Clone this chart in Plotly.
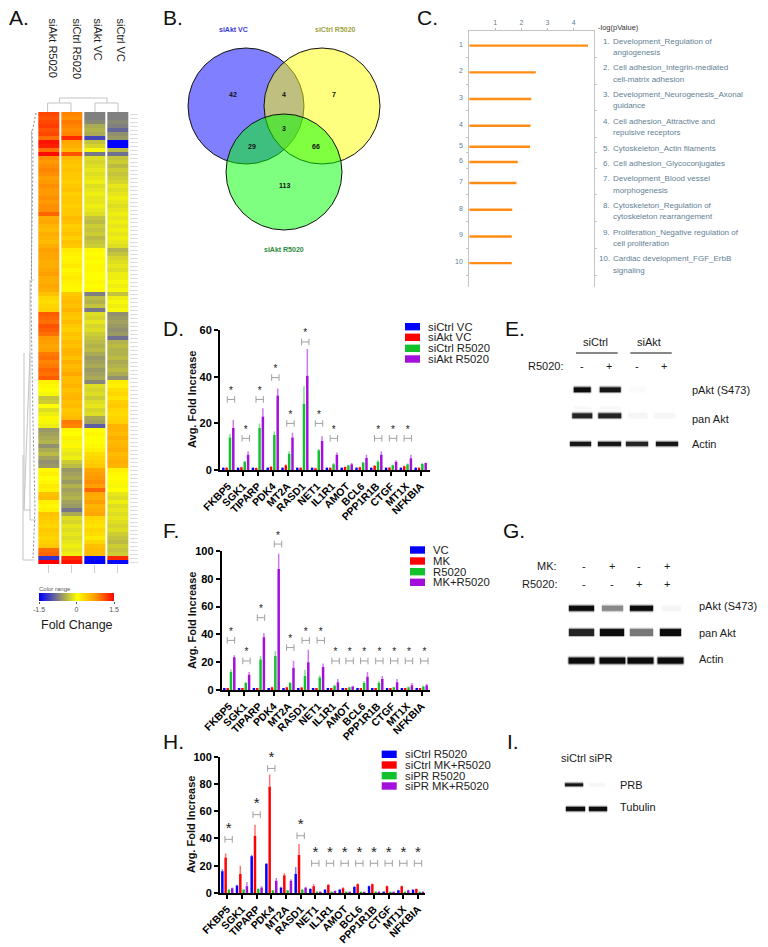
import numpy as np
import plotly.graph_objects as go

W, H = 768, 947
FONT = "Liberation Sans"

# ---------- Panel A ----------
heat_samples = ["siAkt R5020", "siCtrl R5020", "siAkt VC", "siCtrl VC"]
heat_akt_r = [1.15,1.1,1.15,1.2,1.1,1.15, .95, 1.4,1.35, .95, 1.45,
  .8,.75,.8,.85,.8,.7,.75,.8,.75,.75,.8,.75,.8,.8, 1.0,
  .6,.65,.55,.5,.6,.55,.5,.6, .7,.65,.65,.6,.6,.65,.7,.6,.6,.65,.6, .45,
  .3,.25,.3,.35, 1.05,1.0,.95,1.1,1.05,.95, .75,.7,.65,.7, .9,.95,.85,.9,1.0,.95,1.05,
  .1,.05,.0,-.05,-.35,-.3,.0,-.2,-.1,.05, -.05,-.1,
  -.6,-.55,-.5,-.45,-.65,-.5,-.4,-.55,-.65,-.6, .05,.1,.0,.05,.15,.1,
  .45,.5,.1, .05,.1,.45, .4,.35,.3,.4,.35,.3,.35,.4, .95,1.0, -1.2, 1.5]
heat_ctrl_r = [.85,.8,.9,.85,.8,.85, 1.3, .65,.6, .5, 1.1,
  .5,.45,.4,.45,.4,.4,.35,.4,.45,.35,.4,.4,.35,.4, .4,
  .5,.45,.35,.4,.45,.35,.45,.4, .15,.1,.05,.1,.15,.05,.1,.15,.1,.05,.05, .4,
  .45,.5,.45,.55, .45,.4,.5,.4,.35,.45, .4,.5,.45,.55, .55,.45,.6,.5,.55,.65,.5,
  .5,.55,.45,.5,.55,.45,.5,.4,.45,.5, .9,.85,
  .05,.0,.1,-.05,.05,-.1,-.15,-.1,-.3,-.4, -.6,-.55,-.5,-.6,-.45,-.55,
  -.5,-.45,-.55, -.6,-.8,-.5, -.2,-.25,-.15,-.2,-.15,-.2,-.15,-.1, -.15,-.1, 1.3, 1.4]
heat_akt_v = [-.75,-.75,-.7,-.5,-.45,-.5, -1.1, -.35,-.25, -.05, -.8,
  -.2,-.25,-.2,-.15,-.2,-.15,-.1,-.2,-.15,-.1,-.15,-.15,-.1,-.15, -.2,
  -.35,-.4,-.3,-.35,-.3,-.4,-.35,-.3, .05,.0,.05,.0,.05,.05,.0,.0,.05,.0,.05, -.75,
  -.4,-.45,-.35,-.8, -.2,-.25,-.15,-.25,-.2,-.3, -.35,-.4,-.45,-.4, -.5,-.6,-.55,-.5,-.6,-.55,-.5,
  -.7,-.2,-.25,-.2,-.3,-.2,-.15,-.25,-.2,-.5, -.55,-.95,
  .0,.05,.0,.0,.05,.1,.25,.3,.35,.4, .65,.7,.75,.8,.7,1.0,
  .65,.6,.7, .55,.6,.65, .3,.25,.2,.3,.25,.15,.3,.45, .5,.5, -1.45, -1.5]
heat_ctrl_v = [-.75,-.75,-.7,-.75,-.9,-.65, -.6, -1.5,-1.5, -.4, -.85,
  -.35,-.3,-.4,-.3,-.35,-.3,-.25,-.15,-.2,-.15,-.1,-.15,-.2,-.15, -.1,
  -.15,-.1,-.15,-.1,-.15,-.1,-.15,-.2, -.45,-.35,-.25,-.2,-.15,-.2,-.1,-.1,-.05,-.1,-.05, -.35,
  -.1,-.05,-.1,-.05, -.65,-.6,-.55,-.6,-.65,-.6, -.85,-.45,-.4,-.45, -.45,-.4,-.5,-.45,-.4,-.5,-.65,
  .15,.1,.25,.3,.2,.35,.4,.3,.25,.3, .35,.55,
  .55,.5,.6,.5,.55,.6,.5,.55,.6,.55, .1,.05,.0,.05,-.05,.0,
  -.15,-.2,-.1, -.2,-.15,-.2, -.15,-.2,-.25,-.2,-.3,-.35,-.4,-.3, -.35,-.3, 1.3, -1.45]
color_range = [-1.5, -0.75, 0, 0.75, 1.5]

# ---------- Panel B ----------
venn_names = ["siAkt VC", "siCtrl R5020", "siAkt R5020"]
venn_counts = ["42", "4", "7", "3", "29", "66", "113"]

# ---------- Panel C ----------
pathways = ["Development_Regulation of\nangiogenesis",
            "Cell adhesion_Integrin-mediated\ncell-matrix adhesion",
            "Development_Neurogenesis_Axonal\nguidance",
            "Cell adhesion_Attractive and\nrepulsive receptors",
            "Cytoskeleton_Actin filaments",
            "Cell adhesion_Glycoconjugates",
            "Development_Blood vessel\nmorphogenesis",
            "Cytoskeleton_Regulation of\ncytoskeleton rearrangement",
            "Proliferation_Negative regulation of\ncell proliferation",
            "Cardiac development_FGF_ErbB\nsignaling"]
logp = [4.55, 2.55, 2.38, 2.35, 2.33, 1.86, 1.81, 1.65, 1.63, 1.63]

# ---------- Bar panels ----------
genes_d = ["FKBP5","SGK1","TIPARP","PDK4","MT2A","RASD1","NET1","IL1R1","AMOT","BCL6","PPP1R1B","CTGF","MT1X","NFKBIA"]
genes_h = ["FKBP5","SGK1","TIPARP","PDK4","MT2A","RASD1","NET1","IL1R1","AMOT","BCL6","PPP1R1B","CTGF","MT1X","NFKBIA"]

d_names = ["siCtrl VC", "siAkt VC", "siCtrl R5020", "siAkt R5020"]
d_blue = [1,1,1,1,1,1,1,1,1,1,1,1,1,1]
d_red = [1.0,1.2,.9,1.4,2.0,1.0,.8,1.0,1.3,1.2,1.8,1.1,1.6,1.0]
d_green = [14,3.5,18,15,7,28.5,8.5,2.5,2,3.2,3.5,2,2.5,2.6]
d_purple = [18,6.5,23,32,14,40.5,12.5,6.5,2.5,5.2,6.5,3.5,5,3]
d_blue_top = [1.2,1.2,1.2,1.2,1.2,1.2,1.2,1.2,1.2,1.2,1.2,1.2,1.2,1.2]
d_red_top = [1.2,1.4,1.1,1.7,2.5,1.2,1.0,1.2,1.5,1.4,2.1,1.3,1.9,1.2]
d_green_top = [15.5,4,20,16.5,8,36,9,3,2.3,3.5,4.2,2.4,2.8,3]
d_purple_top = [21.5,8,26.5,35,16,52,14.5,7.5,3,6.5,8,4.2,6.5,3.2]
d_sig_pos = [0.18,0.18,0.12,0.18,0.2,0.2,0.13,0.13,0.13,0.13,0.13]
d_sig_idx = [0,1,2,3,4,5,6,7,10,11,12]
d_sig_lvl = [30.3,13.6,30.3,39.7,20,55,20,13.6,13.6,13.6,13.6]

f_names = ["VC", "MK", "R5020", "MK+R5020"]
f_blue = [1,1,1,1,1,1,1,1,1,1,1,1,1,1]
f_red = [1,1.2,1,2,2,1.8,1.1,1,1,1.1,1,1,1.1,1]
f_green = [13,5,22,24.5,5,10,9,3,2,5,5,2,2,2.6]
f_purple = [23.5,11,38,87,16,20,16.5,5.5,2.5,9.5,8,5.5,3.5,3.5]
f_blue_top = [1.2]*14
f_red_top = [1.2,1.5,1.2,2.4,2.4,2.1,1.3,1.2,1.2,1.3,1.2,1.2,1.3,1.2]
f_green_top = [15,6,24.5,28,6,14.5,10.5,4,2.3,6.5,6.5,2.3,2.6,3]
f_purple_top = [25,13,41,98,21,29,19,8,3,13,10,8,5,4.5]
f_sig_idx = [0,1,2,3,4,5,6,7,8,9,10,11,12,13]
f_sig_pos = [0.11,0.16,0.14,0.29,0.12,0.16,0.18,0.18,0.13,0.12,0.14,0.14,0.14,0.18]
f_sig_lvl = [35.7,20.9,52,105,30.5,35.7,35.7,20.9,20.9,20.9,20.9,20.9,20.9,20.9]

h_names = ["siCtrl R5020", "siCtrl MK+R5020", "siPR R5020", "siPR MK+R5020"]
h_blue = [16,5.5,27,21.5,4,14,3,2.5,2.5,4.5,5,1,2,2.5]
h_red = [26,14,42,78,13,28,5,6,3.5,6.5,6.5,5,5,3]
h_green = [2.5,2.5,3,2,2,2.5,1,1,1,.5,1,.5,1,.8]
h_purple = [3.5,5,4,9,9,4,1,1.5,1,.5,1,1,2,1]
h_blue_top = [17.5,6,28,22,4.5,19,3.5,3,3,5,5.5,1.2,2.3,2.7]
h_red_top = [29,20,50,87,14.5,36,6.5,6.5,4.2,7,7,5.5,5.5,3.3]
h_green_top = [3,3,3.5,2.3,2.2,3,1.2,1.2,1.2,.6,1.2,.6,1.1,.9]
h_purple_top = [4,8,5,11,10,4.5,1.2,1.8,1.1,.6,1.2,1.1,2.5,1.1]
h_sig_idx = [0,2,3,5,6,7,8,9,10,11,12,13]
h_sig_pos = [0.09,0.0,0.0,0.0,0.0,0.0,0.0,0.0,0.0,0.0,0.0,0.0]
h_sig_lvl = [39.4,57.5,91.4,42,21.8,21.8,21.8,21.8,21.8,21.8,21.8,21.8]

# ---------- Blots: band darkness per lane ----------
e_pakt = [1.0, .98, .15, 0]
e_pan_upper = [.18, .18, 0, 0]
e_pan = [.95, .95, .2, .2]
e_actin = [.98, .98, .95, .98]
g_pakt = [1.0, .7, 1.0, .2]
g_pan = [.95, 1.0, .75, 1.0]
g_actin = [1.0, 1.0, 1.0, 1.0]
i_prb = [.98, .2]
i_tubulin = [1.0, 1.0]

COLORS = ["#0000ff", "#ff0000", "#12c22c", "#a40fdc"]
ERR = ["rgba(0,0,255,.5)", "rgba(255,0,0,.55)", "rgba(18,194,44,.55)", "rgba(164,15,220,.55)"]
TXT = "#1a1a1a"
GREY = "#5f7f95"

def fx(p): return p / W
def fy(p): return 1 - p / H

annotations, shapes = [], []

def txt(x, y, s, size=11, color=TXT, anchor="left", angle=0, bold=False, vanchor="middle"):
    annotations.append(dict(x=fx(x), y=fy(y), xref="paper", yref="paper", text=s, showarrow=False,
                            xanchor=anchor, yanchor=vanchor, textangle=angle,
                            font=dict(family=FONT, size=size, color=color, weight=700 if bold else 400),
                            borderpad=0, borderwidth=0))

fig = go.Figure()
layout = dict(width=W, height=H, margin=dict(l=0, r=0, t=0, b=0, autoexpand=False), paper_bgcolor="white",
              plot_bgcolor="rgba(0,0,0,0)", showlegend=False, bargap=0.1, bargroupgap=0.25,
              font=dict(family=FONT), hovermode=False)

# overlay in page pixels
layout["xaxis"] = dict(domain=[0, 1], range=[0, W], visible=False, fixedrange=True, automargin=False)
layout["yaxis"] = dict(domain=[0, 1], range=[H, 0], visible=False, fixedrange=True, automargin=False)

def add_axes(i, x0, x1, y0, y1, xa, ya):
    layout[f"xaxis{i}"] = dict(domain=[fx(x0), fx(x1)], anchor=f"y{i}", fixedrange=True, automargin=False, **xa)
    layout[f"yaxis{i}"] = dict(domain=[fy(y1), fy(y0)], anchor=f"x{i}", fixedrange=True, automargin=False, **ya)

# Panel letters
for s, x, y in [("A.", 9, 18), ("B.", 163, 18), ("C.", 417, 18), ("D.", 163, 328), ("E.", 505, 329),
                ("F.", 163, 530), ("G.", 503, 530), ("H.", 163, 741), ("I.", 507, 741)]:
    txt(x, y, s, size=21, color="#111")

# ---------- A ----------
rows = list(range(len(heat_akt_r)))
heat_z = [list(r) for r in zip(heat_akt_r, heat_ctrl_r, heat_akt_v, heat_ctrl_v)]
SCALE = [[0, "#0000ff"], [.25, "#808080"], [.5, "#ffff00"], [.75, "#ff9900"], [1, "#ff0000"]]
add_axes(2, 37.3, 129, 112, 564,
         dict(range=[-.5, 3.5], tickmode="array", tickvals=[0, 1, 2, 3], ticks="outside", ticklen=8,
              tickcolor="#d0d0d0", tickwidth=1, showticklabels=False, showline=False, showgrid=False, zeroline=False),
         dict(range=[len(rows) - .5, -.5], side="right", tickmode="array", tickvals=rows, ticks="outside", ticklen=8,
              tickcolor="#dcdcdc", tickwidth=1, showticklabels=False, showline=False, showgrid=False, zeroline=False))
fig.add_trace(go.Heatmap(z=heat_z, x=[0, 1, 2, 3], y=rows, colorscale=SCALE, zmin=-1.5, zmax=1.5,
                         showscale=False, xgap=2, xaxis="x2", yaxis="y2", hoverinfo="skip"))
for x, s in zip([52, 76, 97.5, 120], heat_samples):
    txt(x, 18, s, size=11, anchor="center", angle=90, vanchor="top")

# dendrograms (page pixels)
dx = [47.6, 47.6, 71, 71, None, 95, 95, 118, 118, None, 59.5, 59.5, 107, 107, None,
      30, 30, 36, None, 24, 24, 30, None, 24, 31, None, 23, 23, 34, None, 31.5, 31.5, 34]
dy = [112, 103, 103, 112, None, 112, 103, 103, 112, None, 103, 98, 98, 103, None,
      280, 520, 520, None, 353, 510, 353, None, 510, 510, None, 455, 560, 560, None, 130, 280, 280]
fig.add_trace(go.Scatter(x=dx, y=dy, mode="lines", line=dict(color="#c4c4c4", width=1), hoverinfo="skip"))
fig.add_trace(go.Scatter(x=[36, 32, 33, 31, 31, 33, 35, 33], y=[113, 133, 153, 300, 300, 420, 510, 558], mode="lines",
                         line=dict(color="#8a8a8a", width=1, dash="2px,2px"), hoverinfo="skip"))

# colour range
add_axes(3, 39, 114, 593, 601,
         dict(range=[-1.5, 1.5], tickmode="array", tickvals=[-1.5, 0, 1.5], ticktext=["-1.5", "0", "1.5"],
              ticks="outside", ticklen=2, tickcolor="#555", tickfont=dict(size=7, color="#555", family=FONT),
              showgrid=False, zeroline=False, showline=False),
         dict(range=[0, 1], visible=False))
fig.add_trace(go.Heatmap(z=[color_range, color_range], x=color_range, y=[0, 1], zsmooth="best", colorscale=SCALE,
                         zmin=-1.5, zmax=1.5, showscale=False, xaxis="x3", yaxis="y3", hoverinfo="skip"))
txt(39, 589, "Color range", size=6, color="#555")
txt(77, 625, "Fold Change", size=12.5, anchor="center")

# ---------- B ----------
fig.add_trace(go.Scatter(x=[246, 322, 284], y=[106, 106, 172], mode="markers",
                         marker=dict(size=116, color=["rgba(0,0,255,.5)", "rgba(255,255,0,.5)", "rgba(0,255,0,.5)"],
                                     line=dict(color="#111", width=1)), hoverinfo="skip"))
for (x, y), s in zip([(233, 94), (284, 94), (334, 94), (284, 128), (252, 146), (315.5, 146), (284, 185)], venn_counts):
    txt(x, y, s, size=7, anchor="center", bold=True, color="#111")
for (x, y), s, c in zip([(233, 30), (335, 30), (284, 249)], venn_names, ["#3a3ad0", "#a3a040", "#2a8a3a"]):
    txt(x, y, s, size=7, anchor="center", bold=True, color=c)

# ---------- C ----------
line_counts = [p.count("\n") + 1 for p in pathways]
edges = [30.8]
for n in line_counts:
    edges.append(edges[-1] + (26.7 if n == 2 else 15.3))
centres = [(a + b) / 2 for a, b in zip(edges[:-1], edges[1:])]
add_axes(4, 469.2, 594, 31, 287,
         dict(side="top", range=[0, (594 - 469.2) / 26.1], tickmode="array", tickvals=[1, 2, 3, 4], ticks="outside",
              ticklen=2, tickcolor="#bbb", tickfont=dict(size=7, color=GREY, family=FONT), showline=True,
              linecolor="#c4c4c4", linewidth=1, showgrid=False, zeroline=False),
         dict(range=[287, 31], tickmode="array", tickvals=edges, ticks="outside", ticklen=2, tickcolor="#c4c4c4",
              showticklabels=False, showline=True, linecolor="#c4c4c4", linewidth=1, mirror="allticks",
              showgrid=False, zeroline=False))
fig.add_trace(go.Bar(x=logp, y=[c + 1.5 for c in centres], orientation="h", width=2.4, marker=dict(color="#ff8c14", line_width=0),
                     xaxis="x4", yaxis="y4", hoverinfo="skip"))
txt(598, 27, "-log(pValue)", size=7.5, color="#333")
for i, (c, p) in enumerate(zip(centres, pathways)):
    txt(463, c, str(i + 1), size=7, color=GREY, anchor="right")
    lines = p.split("\n")
    mid = c + 2.8
    ys = [mid - 5.65, mid + 5.65] if len(lines) == 2 else [mid]
    txt(610, ys[0], f"{i + 1}.", size=8, color=GREY, anchor="right")
    for yy, ln in zip(ys, lines):
        txt(613, yy, ln, size=8, color=GREY)

# ---------- bars ----------
def bar_panel(i, genes, names, series, tops, x0, x1, y0px, ymaxpx, ymax, first, pitch, yticks,
              sig_idx, sig_pos, sig_lvl, star_size, star_px, ylab_xy, leg_x, leg_ys):
    scale = (y0px - ymaxpx) / ymax
    ids = list(range(len(genes)))
    xrange_ = [(x0 - first) / pitch, (x1 - first) / pitch]
    add_axes(i, x0, x1, ymaxpx, y0px,
             dict(range=xrange_, tickmode="array", tickvals=ids, ticktext=genes,
                  tickangle=-45, ticks="outside", ticklen=4, tickwidth=1.5, tickcolor="black", showline=True,
                  linecolor="black", linewidth=2, showgrid=False, zeroline=False,
                  tickfont=dict(family=FONT, size=10.5, color="black", weight=700)),
             dict(range=[0, ymax], tickmode="array", tickvals=yticks, ticks="outside", ticklen=4, tickwidth=1.5,
                  tickcolor="black", showline=True, linecolor="black", linewidth=2, showgrid=False, zeroline=False,
                  tickfont=dict(family=FONT, size=11, color="black", weight=700)))
    # hidden twin with the same scale, taller, so brackets may rise above the value axis
    j = i + 10
    ext = ymax * 1.2
    add_axes(j, x0, x1, y0px - scale * ext, y0px, dict(range=xrange_, visible=False), dict(range=[0, ext], visible=False))
    for nm, v, t, c, e in zip(names, series, tops, COLORS, ERR):
        fig.add_trace(go.Bar(x=ids, y=v, name=nm, marker=dict(color=c, line_width=0), xaxis=f"x{i}", yaxis=f"y{i}",
                             error_y=dict(type="data", symmetric=False, array=[b - a for a, b in zip(v, t)],
                                          arrayminus=[0] * len(v), color=e, thickness=1.5, width=0),
                             hoverinfo="skip"))
    xs = [k + p for k, p in zip(sig_idx, sig_pos)]
    fig.add_trace(go.Scatter(x=xs, y=sig_lvl, mode="markers", marker=dict(size=1, opacity=0),
                             error_x=dict(type="constant", value=.25, color="#a0a0a0", thickness=1, width=3.3),
                             xaxis=f"x{j}", yaxis=f"y{j}", hoverinfo="skip"))
    fig.add_trace(go.Scatter(x=xs, y=[l + star_px / scale for l in sig_lvl], mode="text", text=["*"] * len(xs),
                             textposition="middle center", textfont=dict(family=FONT, size=star_size, color="#222"),
                             xaxis=f"x{j}", yaxis=f"y{j}", hoverinfo="skip"))
    txt(ylab_xy[0], ylab_xy[1], "Avg. Fold Increase", size=11, color="#111", anchor="center", angle=-90, bold=True)
    for nm, c, yy in zip(names, COLORS, leg_ys):
        shapes.append(dict(type="rect", xref="paper", yref="paper", x0=fx(leg_x), x1=fx(leg_x + 15), y0=fy(yy - 3.7),
                           y1=fy(yy + 3.7), fillcolor=c, line_width=0))
        txt(leg_x + 23.3, yy, nm, size=11.3, color="#222")

bar_panel(5, genes_d, d_names, [d_blue, d_red, d_green, d_purple], [d_blue_top, d_red_top, d_green_top, d_purple_top],
          220, 430, 470, 330.3, 60, 228.3, 14.8, [0, 20, 40, 60], d_sig_idx, d_sig_pos, d_sig_lvl, 10, 8,
          (192, 400), 405, [326.7, 337.3, 348.3, 359])
bar_panel(6, genes_d, f_names, [f_blue, f_red, f_green, f_purple], [f_blue_top, f_red_top, f_green_top, f_purple_top],
          221.7, 430, 690, 551, 100, 229.3, 14.8, [0, 20, 40, 60, 80, 100], f_sig_idx, f_sig_pos, f_sig_lvl, 10, 8,
          (192, 621), 410, [550, 561, 571.7, 582.3])
bar_panel(7, genes_h, h_names, [h_blue, h_red, h_green, h_purple], [h_blue_top, h_red_top, h_green_top, h_purple_top],
          220, 425, 893, 756.7, 100, 227.3, 14.67, [0, 20, 40, 60, 80, 100], h_sig_idx, h_sig_pos, h_sig_lvl, 15, 10,
          (191, 825), 381.7, [754.3, 765, 775.7, 786])

# ---------- blots (page pixels) ----------
def band(lanes, widths, y, h, dark):
    xg, zr = [], []
    for c, w, d in zip(lanes, widths, dark):
        xg += [c - w / 2 - 1, c - w / 2 + 1, c + w / 2 - 1, c + w / 2 + 1]
        zr += [0, d, d, 0]
    yg = [y - h / 2 - 1.2, y - h / 2 + 1.2, y + h / 2 - 1.2, y + h / 2 + 1.2]
    z = [[0] * len(zr), zr, zr, [0] * len(zr)]
    fig.add_trace(go.Heatmap(z=z, x=xg, y=yg, zsmooth="best", zmin=0, zmax=1, showscale=False,
                             colorscale=[[0, "rgba(255,255,255,0)"], [1, "#0c0c0c"]], hoverinfo="skip"))

ex = [581.7, 609.3, 637.3, 664.3]
band(ex, [18, 22, 17, 14], 389, 6.5, e_pakt)
band(ex, [18, 22, 16, 16], 407.5, 4, e_pan_upper)
band(ex, [21, 24, 20, 22], 415, 6.5, e_pan)
band([580, 608.5, 636.5, 666], [22, 24, 23, 23], 443.3, 6, e_actin)
gx = [584.3, 611.7, 639.3, 667.3]
band([581, 611.7, 641, 670.5], [26, 22, 24, 20], 607.7, 7, g_pakt)
band([581, 611.7, 641, 670], [26, 25, 24, 22], 631.7, 8.5, g_pan)
band([581, 611.7, 640, 669.5], [27, 27, 27, 27], 660, 8, g_actin)
ix = [573.3, 597]
band(ix, [18.5, 17], 784, 4.5, i_prb)
band([575, 597], [20, 19], 808.3, 6, i_tubulin)

# blot labels
txt(595, 341.7, "siCtrl", anchor="center")
txt(649, 341.7, "siAkt", anchor="center")
fig.add_trace(go.Scatter(x=[576, 617.7, None, 630.3, 671.7], y=[353, 353, None, 353, 353], mode="lines",
                         line=dict(color="#111", width=1), hoverinfo="skip"))
txt(563.3, 365.7, "R5020:", anchor="right")
for x, s in zip(ex, ["-", "+", "-", "+"]):
    txt(x, 365.7, s, anchor="center")
for y, s in [(390.3, "pAkt (S473)"), (418.7, "pan Akt"), (444, "Actin")]:
    txt(691.7, y, s)
txt(556.7, 566, "MK:", anchor="right")
txt(556.7, 584.3, "R5020:", anchor="right")
for x, a, b in zip(gx, ["-", "+", "-", "+"], ["-", "-", "+", "+"]):
    txt(x, 566, a, anchor="center")
    txt(x, 584.3, b, anchor="center")
for y, s in [(606, "pAkt (S473)"), (632.7, "pan Akt"), (659.3, "Actin")]:
    txt(699, y, s)
txt(586.7, 757.7, "siCtrl siPR", anchor="center")
txt(620, 785, "PRB")
txt(620, 806.7, "Tubulin")

layout["annotations"] = annotations
layout["shapes"] = shapes
fig.update_layout(**layout)
fig.write_html("out.html", config={"displayModeBar": False},
               post_script="document.body.style.margin='0';document.documentElement.style.overflow='hidden';")
